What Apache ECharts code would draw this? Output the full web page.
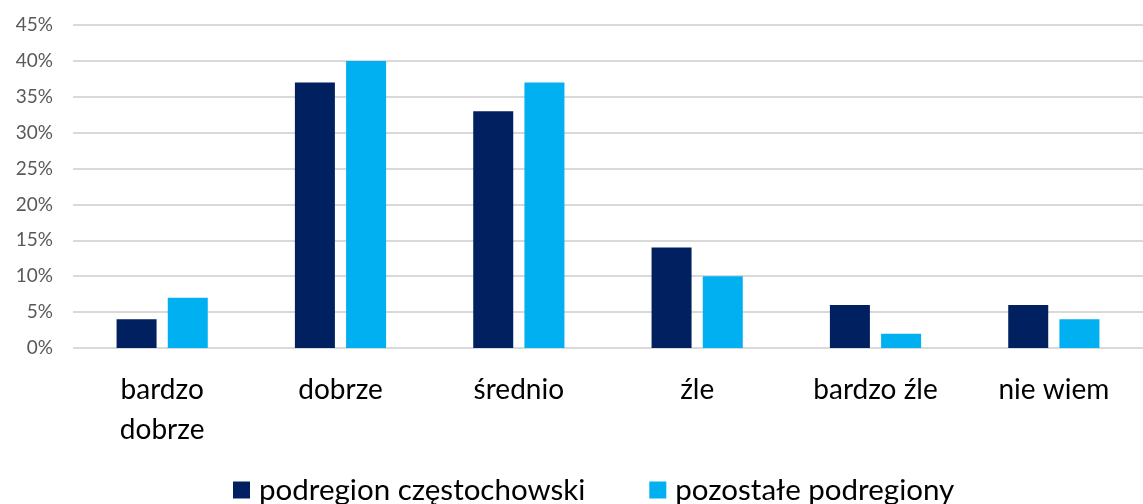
<!DOCTYPE html>
<html>
<head>
<meta charset="utf-8">
<script src="https://cdn.jsdelivr.net/npm/echarts@6/dist/echarts.min.js"></script>
<style>
  html, body { margin: 0; padding: 0; background: #fff; }
  #chart { width: 1143px; height: 504px; }
</style>
</head>
<body>
<div id="chart"></div>
<script>
// dane (w %)
const categories = ['bardzo\ndobrze', 'dobrze', 'średnio', 'źle', 'bardzo źle', 'nie wiem'];
const seriesNames = ['podregion częstochowski', 'pozostałe podregiony'];
const czestochowski = [4, 37, 33, 14, 6, 6];
const pozostale = [7, 40, 37, 10, 2, 4];
const colors = ['#002060', '#00B0F0'];

const chart = echarts.init(document.getElementById('chart'));
const font = 'Lato, "Noto Sans", sans-serif';

const option = {
    animation: false,
    color: colors,
    grid: { left: 73, right: 0, top: 25, bottom: 156 },
    legend: {
        top: 470,
        left: 228,
        itemWidth: 17,
        itemHeight: 17,
        itemGap: 64,
        icon: 'rect',
        textStyle: { fontFamily: font, fontSize: 29.5, color: '#000', padding: [0, 0, 0, 4] },
        data: seriesNames
    },
    xAxis: {
        type: 'category',
        data: categories,
        axisLine: { show: false },
        axisTick: { show: false },
        axisLabel: {
            margin: 22,
            fontFamily: font,
            fontSize: 28,
            color: '#000',
            lineHeight: 40
        }
    },
    yAxis: {
        type: 'value',
        min: 0,
        max: 45,
        interval: 5,
        axisLine: { show: false },
        axisTick: { show: false },
        axisLabel: {
            margin: 20,
            fontFamily: font,
            fontSize: 19,
            color: '#595959',
            formatter: '{value}%'
        },
        splitLine: { lineStyle: { color: '#d9d9d9', width: 2 } }
    },
    series: [
        {
            name: seriesNames[0],
            type: 'bar',
            data: czestochowski,
            barWidth: 40,
            barGap: '28%'
        },
        {
            name: seriesNames[1],
            type: 'bar',
            data: pozostale,
            barWidth: 40,
            barGap: '28%'
        }
    ]
};
chart.setOption(option);
</script>
</body>
</html>
